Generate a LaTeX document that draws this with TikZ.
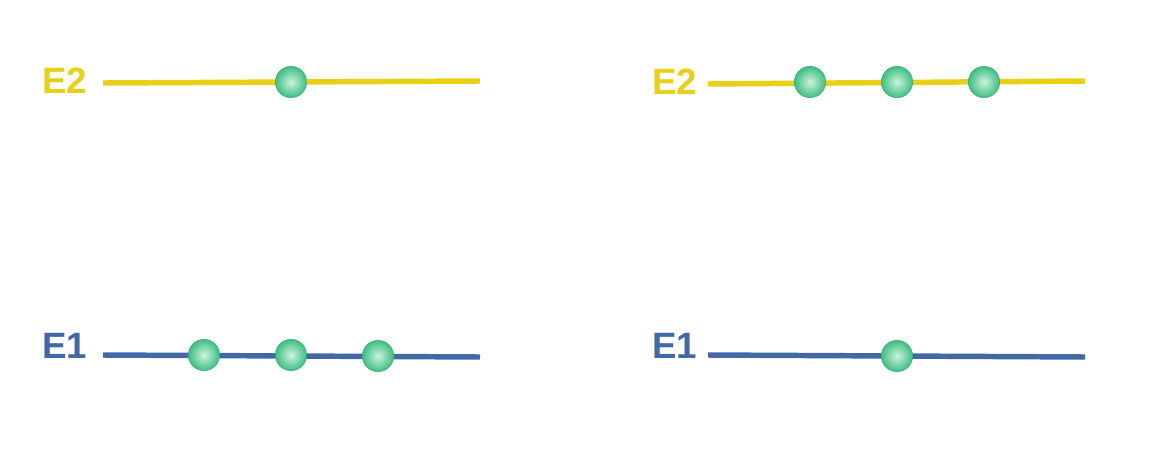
\documentclass[tikz,border=0pt]{standalone}
\usepackage{fontspec}
\setmainfont{Liberation Sans}
\definecolor{lvlyellow}{RGB}{232,208,22}
\definecolor{lvlblue}{RGB}{66,104,166}
\definecolor{ballgreen}{RGB}{62,190,130}
\definecolor{balllight}{RGB}{205,242,222}
\begin{document}
\begin{tikzpicture}[x=0.75pt,y=-0.75pt,
  lbl/.style={font=\fontsize{27.5}{27.5}\selectfont\bfseries, anchor=base west, inner sep=0pt},
  e2line/.style={draw=lvlyellow, line width=4.1pt},
  e1line/.style={draw=lvlblue, line width=4.1pt},
  electron/.style={circle, minimum size=23.5pt, inner sep=0pt, shading=radial, inner color=balllight, outer color=ballgreen, draw=ballgreen!90!black, line width=0.4pt}]
\useasboundingbox[fill=white] (0,0) rectangle (1150,450);
% left panel
\node[lbl, text=lvlyellow] (lE2) at (42,93) {E2};
\node[lbl, text=lvlblue] (lE1) at (42,358) {E1};
\coordinate (a1) at (103,83);
\coordinate (a2) at (480,81);
\draw[e2line] (a1) -- (a2);
\coordinate (b1) at (103,355);
\coordinate (b2) at (480,357);
\draw[e1line] (b1) -- (b2);
\node[electron] (la) at (291,82) {};
\node[electron] (lb1) at (204,355) {};
\node[electron] (lb2) at (291,355) {};
\node[electron] (lb3) at (378,356) {};
% right panel
\node[lbl, text=lvlyellow] (rE2) at (652,94) {E2};
\node[lbl, text=lvlblue] (rE1) at (652,358) {E1};
\coordinate (c1) at (708,84);
\coordinate (c2) at (1085,81);
\draw[e2line] (c1) -- (c2);
\coordinate (d1) at (708,355);
\coordinate (d2) at (1085,357);
\draw[e1line] (d1) -- (d2);
\node[electron] (ra1) at (810,82) {};
\node[electron] (ra2) at (897,82) {};
\node[electron] (ra3) at (984,82) {};
\node[electron] (rb) at (897,356) {};
\end{tikzpicture}
\end{document}
